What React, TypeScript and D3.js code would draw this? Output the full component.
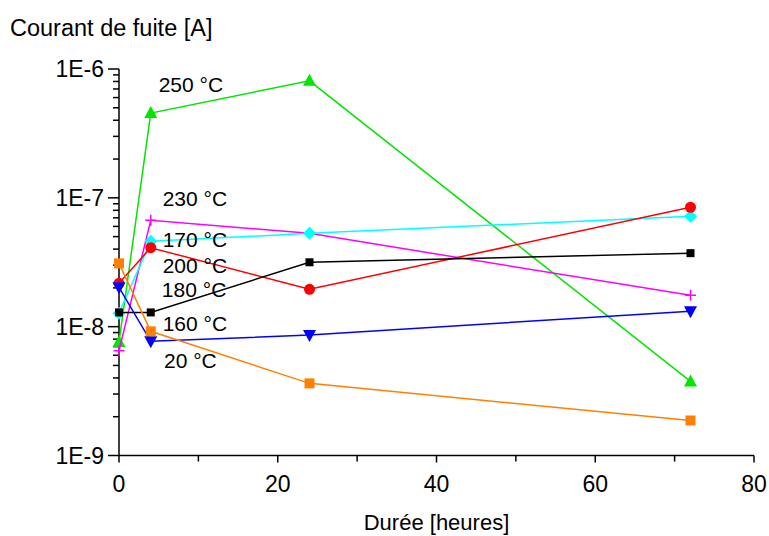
import React from "react";
import * as d3 from "d3";

const hours = [0, 4, 24, 72];
const seriesNames = ["250 °C", "230 °C", "170 °C", "200 °C", "180 °C", "160 °C", "20 °C"];
const s250 = [7.6e-9, 4.55e-7, 8.1e-7, 3.76e-9];
const s230 = [6.5e-9, 6.7e-8, 5.3e-8, 1.75e-8];
const s170 = [1.27e-8, 4.6e-8, 5.3e-8, 7.2e-8];
const s200 = [2.17e-8, 4.1e-8, 1.95e-8, 8.45e-8];
const s180 = [1.29e-8, 1.29e-8, 3.16e-8, 3.72e-8];
const s160 = [2.02e-8, 7.7e-9, 8.6e-9, 1.32e-8];
const s20 = [3.1e-8, 9.2e-9, 3.63e-9, 1.87e-9];
const seriesValues = [s250, s230, s170, s200, s180, s160, s20];
const seriesColors = ["#00e600", "#ff00ff", "#00ffff", "#ff0000", "#000000", "#0000ff", "#ff8000"];
const seriesMarkers = ["triUp", "plus", "diamond", "circle", "square", "triDown", "square"];
// label anchors in data units (hours, current)
const labelHours = [5.0, 5.5, 5.5, 5.5, 5.4, 5.5, 5.67];
const labelValues = [6.62e-7, 8.6e-8, 4.14e-8, 2.6e-8, 1.69e-8, 9.2e-9, 4.74e-9];

const xTicks = [0, 20, 40, 60, 80];
const xMinorTicks = [10, 30, 50, 70];
const yTicks = [1e-9, 1e-8, 1e-7, 1e-6];
const yTickLabels = ["1E-9", "1E-8", "1E-7", "1E-6"];
const yTitle = "Courant de fuite [A]";
const xTitle = "Durée [heures]";

const W = 769, H = 536;
const FONT = "'Liberation Sans', Arial, sans-serif";

function Marker({ kind, x, y, color, big }: any) {
  switch (kind) {
    case "triUp":
      return <path d={`M${x},${y - 7}L${x + 6.5},${y + 5}L${x - 6.5},${y + 5}Z`} fill={color} />;
    case "triDown":
      return <path d={`M${x},${y + 7}L${x + 6.5},${y - 5}L${x - 6.5},${y - 5}Z`} fill={color} />;
    case "diamond":
      return <path d={`M${x},${y - 6.5}L${x + 6.5},${y}L${x},${y + 6.5}L${x - 6.5},${y}Z`} fill={color} />;
    case "circle":
      return <circle cx={x} cy={y} r={5.5} fill={color} />;
    case "plus":
      return (
        <path d={`M${x - 5.5},${y}H${x + 5.5}M${x},${y - 5.5}V${y + 5.5}`} stroke={color} strokeWidth={1.5} fill="none" />
      );
    default: {
      const s = big ? 10 : 8;
      return <rect x={x - s / 2} y={y - s / 2} width={s} height={s} fill={color} />;
    }
  }
}

export default function App() {
  const x = d3.scaleLinear().domain([0, 80]).range([119, 754]);
  const y = d3.scaleLog().domain([1e-9, 1e-6]).range([455.5, 69]);
  const line = d3
    .line<number>()
    .x((_, i) => x(hours[i]))
    .y((d) => y(d));

  const minor: number[] = [];
  for (let e = -9; e < -6; e++) {
    for (let m = 2; m <= 9; m++) minor.push(m * Math.pow(10, e));
  }

  const x0 = x(0), y0 = y(1e-9);

  return (
    <svg
      width={W}
      height={H}
      style={{ position: "absolute", left: 0, top: 0, background: "#fff" }}
      fontFamily={FONT}
    >
      <rect width={W} height={H} fill="#fff" />
      <text x={10} y={36} fontSize={23.5} fill="#000">{yTitle}</text>
      <text x={(x(0) + x(80)) / 2} y={530} fontSize={22} textAnchor="middle" fill="#000">{xTitle}</text>

      {/* axes */}
      <g stroke="#000" strokeWidth={1.5}>
        <line x1={x0} x2={x0} y1={y(1e-6)} y2={y0} />
        <line x1={x0} x2={x(80)} y1={y0} y2={y0} />
        {yTicks.map((t) => (
          <line key={t} x1={x0 - 11} x2={x0} y1={y(t)} y2={y(t)} />
        ))}
        {minor.map((t) => (
          <line key={t} x1={x0 - 6} x2={x0} y1={y(t)} y2={y(t)} />
        ))}
        {xTicks.map((t) => (
          <line key={t} x1={x(t)} x2={x(t)} y1={y0} y2={y0 + 7} />
        ))}
        {xMinorTicks.map((t) => (
          <line key={t} x1={x(t)} x2={x(t)} y1={y0} y2={y0 + 6} />
        ))}
      </g>
      {yTicks.map((t, i) => (
        <text key={t} x={x0 - 15} y={y(t) + 8} fontSize={23} textAnchor="end" fill="#000">
          {yTickLabels[i]}
        </text>
      ))}
      {xTicks.map((t) => (
        <text key={t} x={x(t)} y={492} fontSize={23} textAnchor="middle" fill="#000">
          {t}
        </text>
      ))}

      {/* series */}
      {seriesValues.map((vals, si) => (
        <g key={si}>
          <path d={line(vals) || ""} fill="none" stroke={seriesColors[si]} strokeWidth={1.5} />
          {vals.map((v, i) => (
            <Marker
              key={i}
              kind={seriesMarkers[si]}
              x={x(hours[i])}
              y={y(v)}
              color={seriesColors[si]}
              big={si === 6}
            />
          ))}
        </g>
      ))}

      {seriesNames.map((n, i) => (
        <text key={n} x={x(labelHours[i])} y={y(labelValues[i])} fontSize={21} fill="#000">
          {n}
        </text>
      ))}
    </svg>
  );
}
